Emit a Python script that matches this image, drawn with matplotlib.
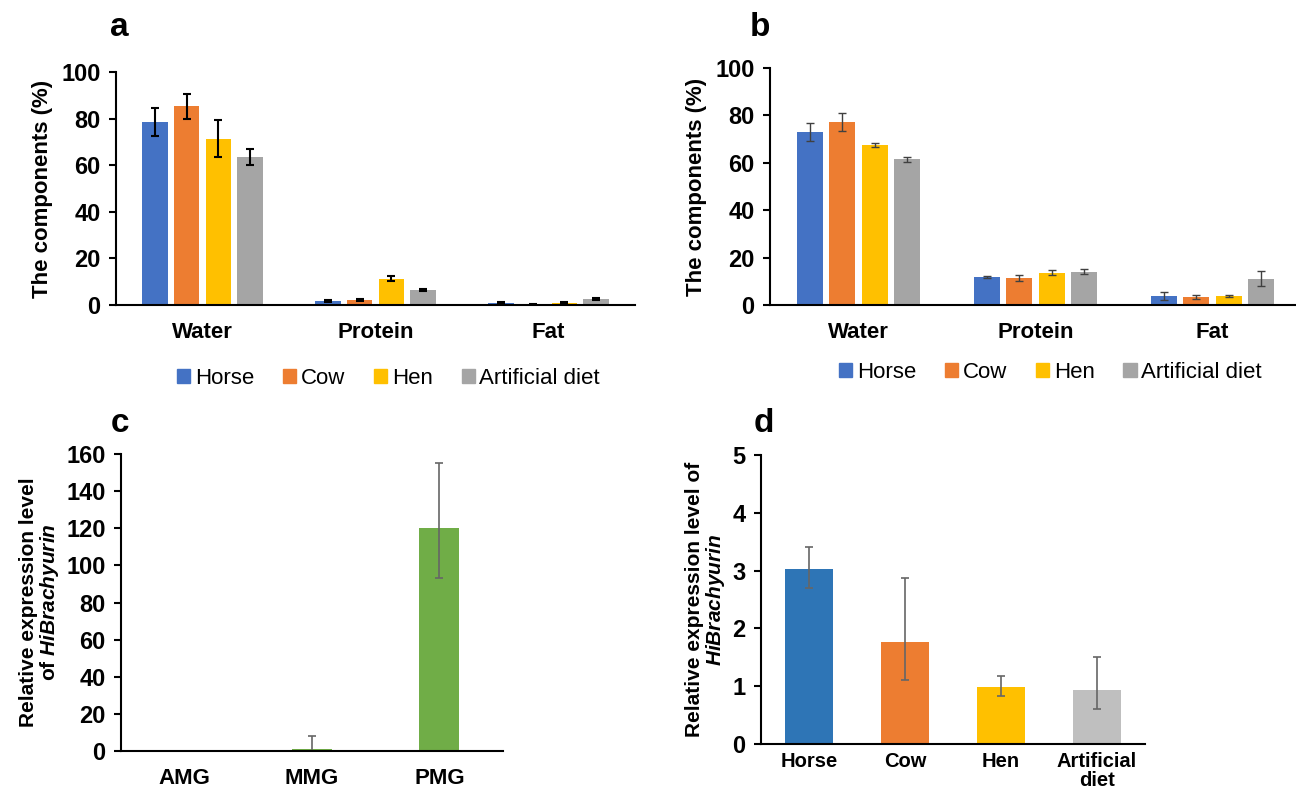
import matplotlib
matplotlib.use("Agg")
import matplotlib.pyplot as plt
import numpy as np
from matplotlib.patches import Patch

plt.rcParams['font.family'] = ['Liberation Sans', 'DejaVu Sans']
plt.rcParams['mathtext.fontset'] = 'custom'
plt.rcParams['mathtext.it'] = 'Liberation Sans:italic:bold'
plt.rcParams['mathtext.rm'] = 'Liberation Sans:bold'
plt.rcParams['mathtext.bf'] = 'Liberation Sans:bold'

# ---------------- data ----------------
components = ["Water", "Protein", "Fat"]
diets = ["Horse", "Cow", "Hen", "Artificial diet"]

a_horse = [78.4, 1.6, 1.0]
a_cow = [85.2, 2.1, 0.3]
a_hen = [71.4, 11.3, 0.9]
a_art = [63.4, 6.3, 2.7]
a_horse_err = [6.0, 0.4, 0.4]
a_cow_err = [5.5, 0.5, 0.2]
a_hen_err = [8.0, 1.2, 0.3]
a_art_err = [3.4, 0.5, 0.5]

b_horse = [73.0, 12.0, 3.9]
b_cow = [77.3, 11.4, 3.4]
b_hen = [67.5, 13.7, 3.9]
b_art = [61.5, 14.1, 11.1]
b_horse_err = [3.7, 0.4, 1.7]
b_cow_err = [3.8, 1.1, 1.0]
b_hen_err = [0.8, 1.0, 0.4]
b_art_err = [1.1, 1.1, 3.2]

c_groups = ["AMG", "MMG", "PMG"]
c_values = [0.02, 1.0, 120.0]
c_err_low = [0.0, 1.0, 27.0]
c_err_high = [0.0, 7.2, 35.0]

d_groups = ["Horse", "Cow", "Hen", "Artificial\ndiet"]
d_values = [3.03, 1.76, 0.99, 0.94]
d_err_low = [0.33, 0.66, 0.16, 0.34]
d_err_high = [0.37, 1.11, 0.18, 0.56]

# ---------------- styles ----------------
col4 = ["#4472C4", "#ED7D31", "#FFC000", "#A5A5A5"]
col_d = ["#2E75B6", "#ED7D31", "#FFC000", "#BFBFBF"]
col_c = "#70AD47"

W, H = 1296, 790
fig = plt.figure(figsize=(W / 100, H / 100), dpi=100)


def ax_px(x0, x1, ytop, ybot):
    return fig.add_axes([x0 / W, 1 - ybot / H, (x1 - x0) / W, (ybot - ytop) / H])


def style(ax, lw=1.5):
    for s in ["top", "right"]:
        ax.spines[s].set_visible(False)
    ax.spines["left"].set_linewidth(lw)
    ax.spines["bottom"].set_linewidth(lw)
    ax.tick_params(axis="y", direction="out", length=5, width=lw, labelsize=17, pad=6)
    ax.tick_params(axis="x", length=0, labelsize=16, pad=12)
    for t in ax.get_yticklabels() + ax.get_xticklabels():
        t.set_fontweight("bold")


def grouped(ax, series, errs, ecolor, elw):
    x = np.arange(len(components))
    step = 0.183
    width = 0.145
    offs = (np.arange(4) - 1.5) * step
    for i, (vals, er) in enumerate(zip(series, errs)):
        ax.bar(x + offs[i], vals, width, color=col4[i], yerr=er,
               error_kw=dict(ecolor=ecolor, elinewidth=elw, capsize=3, capthick=elw))
    ax.set_xlim(-0.5, 2.5)
    ax.set_ylim(0, 100)
    ax.set_yticks(range(0, 101, 20))
    ax.set_xticks(x)
    ax.set_xticklabels(components)
    ax.set_ylabel("The components (%)", fontsize=16, fontweight="bold", labelpad=6)
    style(ax)


handles = [Patch(color=c) for c in col4]
leg_kw = dict(loc="center", ncol=4, frameon=False, fontsize=16, handlelength=0.6,
              handleheight=0.6, handletextpad=0.2, columnspacing=1.3)

# panel a
axa = ax_px(116, 635, 72, 305)
grouped(axa, [a_horse, a_cow, a_hen, a_art],
        [a_horse_err, a_cow_err, a_hen_err, a_art_err], "black", 1.5)
axa.legend(handles, diets, bbox_to_anchor=(0.525, -0.315), **leg_kw)

# panel b
axb = ax_px(770, 1301, 68, 305)
grouped(axb, [b_horse, b_cow, b_hen, b_art],
        [b_horse_err, b_cow_err, b_hen_err, b_art_err], "#404040", 1.0)
axb.legend(handles, diets, bbox_to_anchor=(0.528, -0.285), **leg_kw)

# panel c
axc = ax_px(121, 503, 454, 751)
xc = np.arange(len(c_groups))
axc.bar(xc, c_values, 0.315, color=col_c,
        yerr=[c_err_low, c_err_high],
        error_kw=dict(ecolor="#666666", elinewidth=1.2, capsize=3, capthick=1.2))
axc.set_xlim(-0.5, 2.5)
axc.set_ylim(0, 160)
axc.set_yticks(range(0, 161, 20))
axc.set_xticks(xc)
axc.set_xticklabels(c_groups)
axc.set_ylabel("Relative expression level\nof $\\mathit{HiBrachyurin}$", fontsize=15,
               fontweight="bold", labelpad=4, linespacing=1.0)
style(axc)

# panel d
axd = ax_px(761, 1145, 455, 744)
xd = np.arange(len(d_groups))
axd.bar(xd, d_values, 0.49, color=col_d,
        yerr=[d_err_low, d_err_high],
        error_kw=dict(ecolor="#666666", elinewidth=1.2, capsize=3, capthick=1.2))
axd.set_xlim(-0.5, 3.5)
axd.set_ylim(0, 5)
axd.set_yticks(range(0, 6))
axd.set_xticks(xd)
axd.set_xticklabels(d_groups, linespacing=0.95)
axd.set_ylabel("Relative expression level of\n$\\mathit{HiBrachyurin}$", fontsize=15,
               fontweight="bold", labelpad=4, linespacing=1.0)
style(axd)
axd.tick_params(axis="x", labelsize=14.5, pad=6)

# panel letters
for lab, x, y in [("a", 119, 28), ("b", 760, 28), ("c", 120, 423), ("d", 764, 424)]:
    fig.text(x / W, 1 - y / H, lab, fontsize=24, fontweight="bold", ha="center", va="center")

fig.savefig("out.png", dpi=100)
